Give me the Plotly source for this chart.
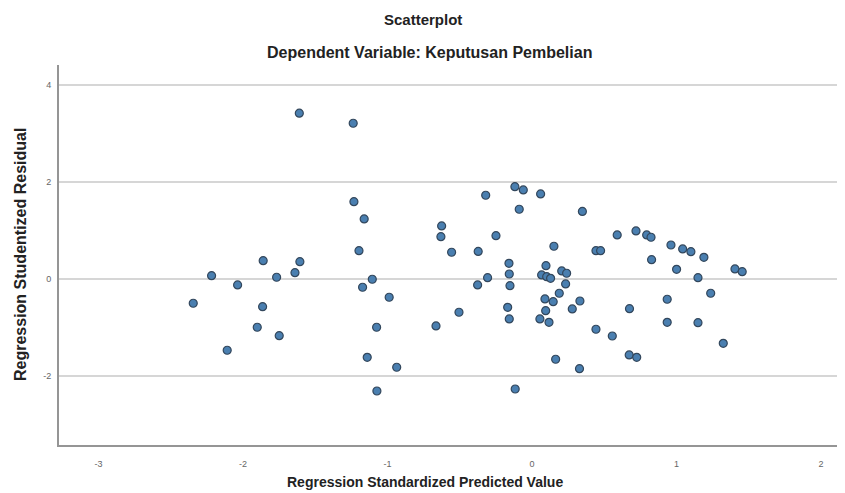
import plotly.graph_objects as go

# Regression Standardized Predicted Value
pred = [-1.610, -1.237, -1.232, -1.161, -1.197, -1.860, -1.606, -2.217, -2.037, -1.767,
        -1.640, -1.105, -1.172, -2.344, -1.864, -1.901, -1.749, -1.075, -2.109, -1.140,
        -1.073, -0.118, -0.060, 0.060, -0.320, -0.088, 0.349, -0.625, -0.630, -0.249,
        -0.556, -0.372, 0.152, 0.590, 0.720, 0.794, 0.824, 0.962, 1.043, 1.100,
        1.190, 0.443, 0.475, 0.828, -0.159, 0.097, -0.307, -0.376, -0.157, -0.152,
        0.067, 0.102, 0.129, 0.206, 0.240, 0.233, 0.189, 0.090, 0.147, 0.095,
        0.279, 0.332, 0.055, 0.118, -0.168, -0.157, -0.988, -0.505, -0.664, -0.936,
        0.164, 0.329, -0.116, 1.001, 1.405, 1.455, 1.149, 1.237, 0.936, 0.675,
        0.443, 0.556, 0.936, 1.149, 1.324, 0.673, 0.725]

# Regression Studentized Residual
resid = [3.424, 3.217, 1.597, 1.240, 0.585, 0.378, 0.357, 0.068, -0.124, 0.035,
         0.130, -0.006, -0.171, -0.502, -0.572, -0.998, -1.171, -0.998, -1.473, -1.618,
         -2.314, 1.907, 1.839, 1.756, 1.729, 1.440, 1.395, 1.095, 0.874, 0.895,
         0.552, 0.568, 0.676, 0.909, 0.992, 0.909, 0.862, 0.702, 0.620, 0.564,
         0.448, 0.585, 0.585, 0.399, 0.324, 0.275, 0.027, -0.124, 0.103, -0.138,
         0.083, 0.048, 0.014, 0.165, 0.118, -0.103, -0.295, -0.413, -0.469, -0.655,
         -0.620, -0.455, -0.826, -0.895, -0.585, -0.826, -0.378, -0.688, -0.971, -1.824,
         -1.659, -1.853, -2.273, 0.200, 0.207, 0.151, 0.027, -0.295, -0.419, -0.614,
         -1.039, -1.178, -0.895, -0.903, -1.329, -1.570, -1.618]

x_ticks = [-3, -2, -1, 0, 1, 2]
y_ticks = [-2, 0, 2, 4]

title_1 = "Scatterplot"
title_2 = "Dependent Variable: Keputusan Pembelian"
x_title = "Regression Standardized Predicted Value"
y_title = "Regression Studentized Residual"

# page offset from the default body margin
OFF = 8
W, H = 845 - OFF, 493 - OFF
# plot area in page pixels
PL, PR, PT, PB = 59, 838, 65, 445
L, R, T, B = PL - OFF, W - (PR - OFF), PT - OFF, H - (PB - OFF)

fig = go.Figure()
fig.add_trace(go.Scatter(
    x=pred, y=resid, mode="markers",
    marker=dict(size=8, color="#4a7fb0", line=dict(color="#33475c", width=1.2)),
    hoverinfo="x+y", showlegend=False,
))

font_family = "Liberation Sans, Arial, sans-serif"

fig.update_layout(
    width=W, height=H, autosize=False,
    margin=dict(l=L, r=R, t=T, b=B),
    paper_bgcolor="white", plot_bgcolor="white",
    font=dict(family=font_family, color="#222"),
    xaxis=dict(
        range=[-3.273, 2.118], tickmode="array", tickvals=x_ticks,
        ticktext=[str(v) for v in x_ticks],
        showgrid=False, zeroline=False, showline=True,
        linecolor="#959595", linewidth=2, ticks="",
        tickfont=dict(size=9, color="#666666"), ticklabelstandoff=9,
    ),
    yaxis=dict(
        range=[-3.43, 4.42], tickmode="array", tickvals=y_ticks,
        ticktext=[str(v) for v in y_ticks],
        showgrid=True, gridcolor="#d6d6d6", gridwidth=1.5,
        zeroline=False, showline=True,
        linecolor="#959595", linewidth=2, ticks="",
        tickfont=dict(size=9, color="#666666"), ticklabelstandoff=4,
    ),
)

def px_x(p):
    return (p - PL) / (PR - PL)

def px_y(p):
    return (PB - p) / (PB - PT)

annotations = [
    dict(text="<b>%s</b>" % title_1, x=px_x(423), y=px_y(20), xref="paper", yref="paper",
         xanchor="center", yanchor="middle", showarrow=False, font=dict(size=15, color="#222")),
    dict(text="<b>%s</b>" % title_2, x=px_x(429), y=px_y(53), xref="paper", yref="paper",
         xanchor="center", yanchor="middle", showarrow=False, font=dict(size=16, color="#222")),
    dict(text="<b>%s</b>" % x_title, x=px_x(425), y=px_y(482), xref="paper", yref="paper",
         xanchor="center", yanchor="middle", showarrow=False, font=dict(size=14, color="#222")),
    dict(text="<b>%s</b>" % y_title, x=px_x(20), y=px_y(255), xref="paper", yref="paper",
         xanchor="center", yanchor="middle", showarrow=False, textangle=-90,
         font=dict(size=16, color="#222")),
]
fig.update_layout(annotations=annotations)

fig.write_html("out.html")
